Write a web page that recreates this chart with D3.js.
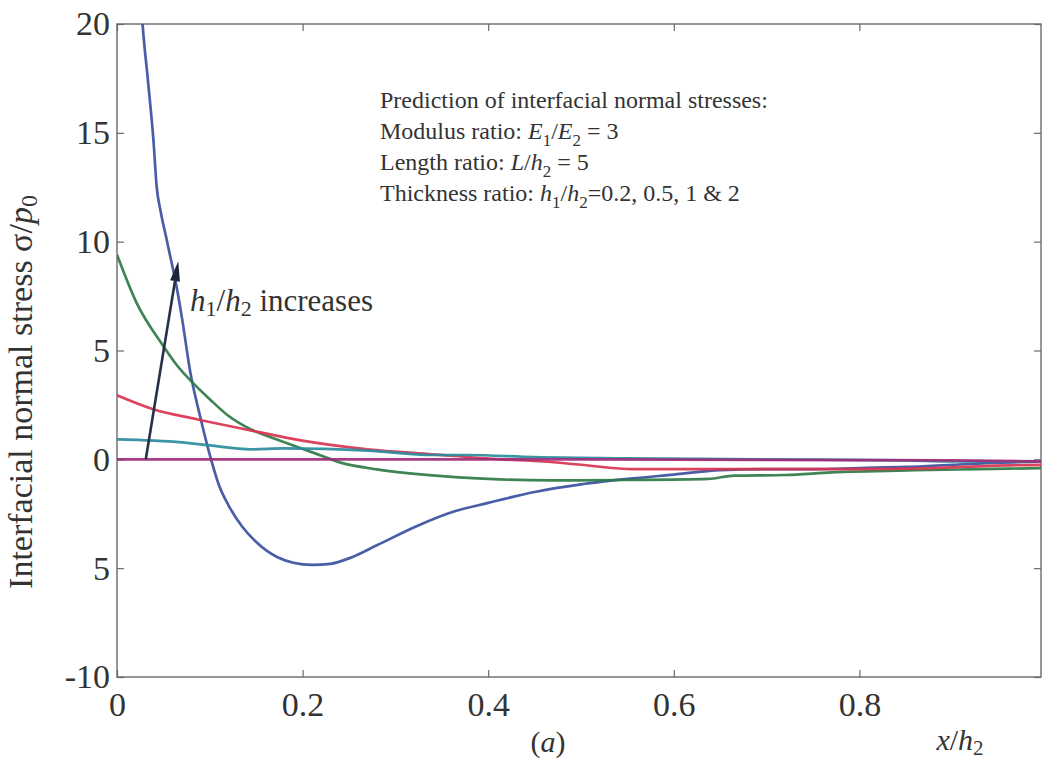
<!DOCTYPE html>
<html>
<head>
<meta charset="utf-8">
<script src="https://cdn.jsdelivr.net/npm/d3@7"></script>
<style>
html,body{margin:0;padding:0;background:#fff;}
svg{display:block;}
text{font-family:"Liberation Serif","Times New Roman",serif;fill:#333;}
</style>
</head>
<body>
<svg id="chart" width="1045" height="760"></svg>
<script>
// ---- data ----
const xTicks = [0, 0.2, 0.4, 0.6, 0.8];
const xTickLabels = ["0", "0.2", "0.4", "0.6", "0.8"];
const yTicks = [20, 15, 10, 5, 0, -5, -10];
const yTickLabels = ["20", "15", "10", "5", "0", "5", "-10"];

const blueX = [0.025, 0.0277, 0.0338, 0.0392, 0.0428, 0.047, 0.053, 0.058, 0.063, 0.07, 0.079, 0.09, 0.1, 0.11, 0.12, 0.135, 0.15, 0.173, 0.19, 0.21, 0.23, 0.25, 0.28, 0.324, 0.363, 0.4, 0.45, 0.5, 0.55, 0.6, 0.65, 0.7, 0.75, 0.8, 0.85, 0.9, 0.95, 1.0];
const blueY = [21.5, 19.9, 17.2, 14.7, 12.5, 11.4, 10.2, 9.2, 8.2, 6.5, 4.0, 1.9, 0.2, -1.2, -2.1, -3.1, -3.8, -4.5, -4.75, -4.85, -4.8, -4.55, -3.95, -3.05, -2.4, -2.0, -1.5, -1.15, -0.9, -0.7, -0.5, -0.45, -0.45, -0.4, -0.35, -0.25, -0.15, -0.1];

const greenX = [0, 0.021, 0.05, 0.065, 0.082, 0.1, 0.12, 0.144, 0.17, 0.19, 0.215, 0.24, 0.28, 0.34, 0.4, 0.468, 0.55, 0.637, 0.665, 0.72, 0.77, 0.86, 0.93, 1.0];
const greenY = [9.4, 7.2, 5.2, 4.3, 3.5, 2.76, 2.0, 1.38, 0.95, 0.64, 0.25, -0.14, -0.46, -0.74, -0.9, -0.97, -0.95, -0.9, -0.75, -0.72, -0.6, -0.5, -0.45, -0.4];

const redX = [0, 0.039, 0.086, 0.144, 0.198, 0.27, 0.34, 0.414, 0.46, 0.5, 0.557, 0.6, 0.7, 0.8, 0.88, 0.94, 1.0];
const redY = [2.94, 2.3, 1.84, 1.33, 0.87, 0.46, 0.23, 0.0, -0.1, -0.25, -0.45, -0.45, -0.45, -0.45, -0.4, -0.3, -0.25];

const tealX = [0, 0.07, 0.1, 0.144, 0.18, 0.27, 0.34, 0.378, 0.45, 0.55, 0.7, 0.85, 0.9, 1.0];
const tealY = [0.92, 0.78, 0.64, 0.46, 0.5, 0.4, 0.2, 0.2, 0.1, 0.05, 0.0, -0.05, -0.1, -0.1];

const magentaX = [0, 0.5, 0.9, 1.0];
const magentaY = [0, 0, -0.05, -0.1];

const arrowX = [0.031, 0.066];
const arrowY = [0, 9.1];

const seriesColors = ["#3b4fa0", "#2f7a45", "#d83350", "#2a8c9c", "#a02c78"];

// ---- layout ----
const svg = d3.select("#chart");
const mLeft = 117, mRight = 1041, mTop = 24, mBottom = 677;
const x = d3.scaleLinear().domain([0, 0.9957]).range([mLeft, mRight]);
const y = d3.scaleLinear().domain([-10, 20]).range([mBottom, mTop]);

svg.append("defs").append("clipPath").attr("id", "clip")
  .append("rect").attr("x", mLeft).attr("y", mTop).attr("width", mRight - mLeft).attr("height", mBottom - mTop);

// frame
svg.append("rect").attr("x", mLeft).attr("y", mTop).attr("width", mRight - mLeft).attr("height", mBottom - mTop)
  .attr("fill", "none").attr("stroke", "#6a6a6a").attr("stroke-width", 1.4);

// axes
const axColor = "#6a6a6a";
const gx = svg.append("g").attr("transform", `translate(0,${mBottom})`)
  .call(d3.axisBottom(x).tickValues(xTicks).tickSize(-7).tickPadding(15).tickFormat((d, i) => xTickLabels[i]));
const gxTop = svg.append("g").attr("transform", `translate(0,${mTop})`)
  .call(d3.axisTop(x).tickValues(xTicks).tickSize(-7).tickFormat(""));
const gy = svg.append("g").attr("transform", `translate(${mLeft},0)`)
  .call(d3.axisLeft(y).tickValues(yTicks).tickSize(-7).tickPadding(7).tickFormat((d, i) => yTickLabels[i]));
const gyR = svg.append("g").attr("transform", `translate(${mRight},0)`)
  .call(d3.axisRight(y).tickValues(yTicks).tickSize(-7).tickFormat(""));
[gx, gxTop, gy, gyR].forEach(g => {
  g.select(".domain").remove();
  g.selectAll("line").attr("stroke", axColor).attr("stroke-width", 1.2);
  g.selectAll("text").attr("font-family", "Liberation Serif, serif").attr("font-size", 34).attr("fill", "#333");
});
gx.selectAll("text").attr("dy", "0.71em");

// series
const series = [
  {xs: blueX, ys: blueY, c: seriesColors[0]},
  {xs: greenX, ys: greenY, c: seriesColors[1]},
  {xs: redX, ys: redY, c: seriesColors[2]},
  {xs: tealX, ys: tealY, c: seriesColors[3]},
  {xs: magentaX, ys: magentaY, c: seriesColors[4]}
];
const line = d3.line().x(d => x(d[0])).y(d => y(d[1])).curve(d3.curveMonotoneX);
const plot = svg.append("g").attr("clip-path", "url(#clip)");
series.forEach(s => {
  plot.append("path").datum(s.xs.map((v, i) => [v, s.ys[i]]))
    .attr("d", line).attr("fill", "none").attr("stroke", s.c).attr("stroke-width", 2.7)
    .attr("stroke-linejoin", "round").attr("stroke-opacity", 0.92);
});

// arrow
const ax0 = x(arrowX[0]), ay0 = y(arrowY[0]), ax1 = x(arrowX[1]), ay1 = y(arrowY[1]);
const ang = Math.atan2(ay1 - ay0, ax1 - ax0);
const headLen = 20, headW = 5;
const bx = ax1 - headLen * Math.cos(ang), by = ay1 - headLen * Math.sin(ang);
svg.append("line").attr("x1", ax0).attr("y1", ay0).attr("x2", bx).attr("y2", by)
  .attr("stroke", "#26304a").attr("stroke-width", 2.6);
svg.append("path").attr("d", `M${ax1},${ay1}L${bx + headW * Math.sin(ang)},${by - headW * Math.cos(ang)}L${bx - headW * Math.sin(ang)},${by + headW * Math.cos(ang)}Z`)
  .attr("fill", "#1f2538");

// annotation "h1/h2 increases"
const ann = svg.append("text").attr("x", 190).attr("y", 311).attr("font-size", 31);
ann.append("tspan").attr("font-style", "italic").text("h");
ann.append("tspan").attr("font-size", 22).attr("dy", 5).text("1");
ann.append("tspan").attr("dy", -5).text("/");
ann.append("tspan").attr("font-style", "italic").text("h");
ann.append("tspan").attr("font-size", 22).attr("dy", 5).text("2");
ann.append("tspan").attr("dy", -5).text(" increases");

// info box
const fs = 24;
const info = svg.append("g").attr("font-size", fs);
info.append("text").attr("x", 380).attr("y", 108).attr("font-size", fs).text("Prediction of interfacial normal stresses:");
const t2 = info.append("text").attr("x", 380).attr("y", 139).attr("font-size", fs);
t2.append("tspan").text("Modulus ratio: ");
t2.append("tspan").attr("font-style", "italic").text("E");
t2.append("tspan").attr("font-size", 17).attr("dy", 7).text("1");
t2.append("tspan").attr("dy", -7).text("/");
t2.append("tspan").attr("font-style", "italic").text("E");
t2.append("tspan").attr("font-size", 17).attr("dy", 7).text("2");
t2.append("tspan").attr("dy", -7).text(" = 3");
const t3 = info.append("text").attr("x", 380).attr("y", 170).attr("font-size", fs);
t3.append("tspan").text("Length ratio: ");
t3.append("tspan").attr("font-style", "italic").text("L");
t3.append("tspan").text("/");
t3.append("tspan").attr("font-style", "italic").text("h");
t3.append("tspan").attr("font-size", 17).attr("dy", 7).text("2");
t3.append("tspan").attr("dy", -7).text(" = 5");
const t4 = info.append("text").attr("x", 380).attr("y", 201).attr("font-size", fs);
t4.append("tspan").text("Thickness ratio: ");
t4.append("tspan").attr("font-style", "italic").text("h");
t4.append("tspan").attr("font-size", 17).attr("dy", 7).text("1");
t4.append("tspan").attr("dy", -7).text("/");
t4.append("tspan").attr("font-style", "italic").text("h");
t4.append("tspan").attr("font-size", 17).attr("dy", 7).text("2");
t4.append("tspan").attr("dy", -7).text("=0.2, 0.5, 1 & 2");

// y axis label
const yl = svg.append("text").attr("transform", `translate(32,392) rotate(-90)`)
  .attr("text-anchor", "middle").attr("font-size", 34);
yl.append("tspan").text("Interfacial normal stress σ/");
yl.append("tspan").attr("font-style", "italic").text("p");
yl.append("tspan").attr("font-size", 24).attr("dy", 5).text("0");

// x axis label
const xl = svg.append("text").attr("x", 960).attr("y", 750).attr("text-anchor", "middle").attr("font-size", 30);
xl.append("tspan").attr("font-style", "italic").text("x");
xl.append("tspan").text("/");
xl.append("tspan").attr("font-style", "italic").text("h");
xl.append("tspan").attr("font-size", 21).attr("dy", 5).text("2");

const cap = svg.append("text").attr("x", 548).attr("y", 752).attr("text-anchor", "middle").attr("font-size", 30);
cap.append("tspan").text("(");
cap.append("tspan").attr("font-style", "italic").text("a");
cap.append("tspan").text(")");
</script>
</body>
</html>
